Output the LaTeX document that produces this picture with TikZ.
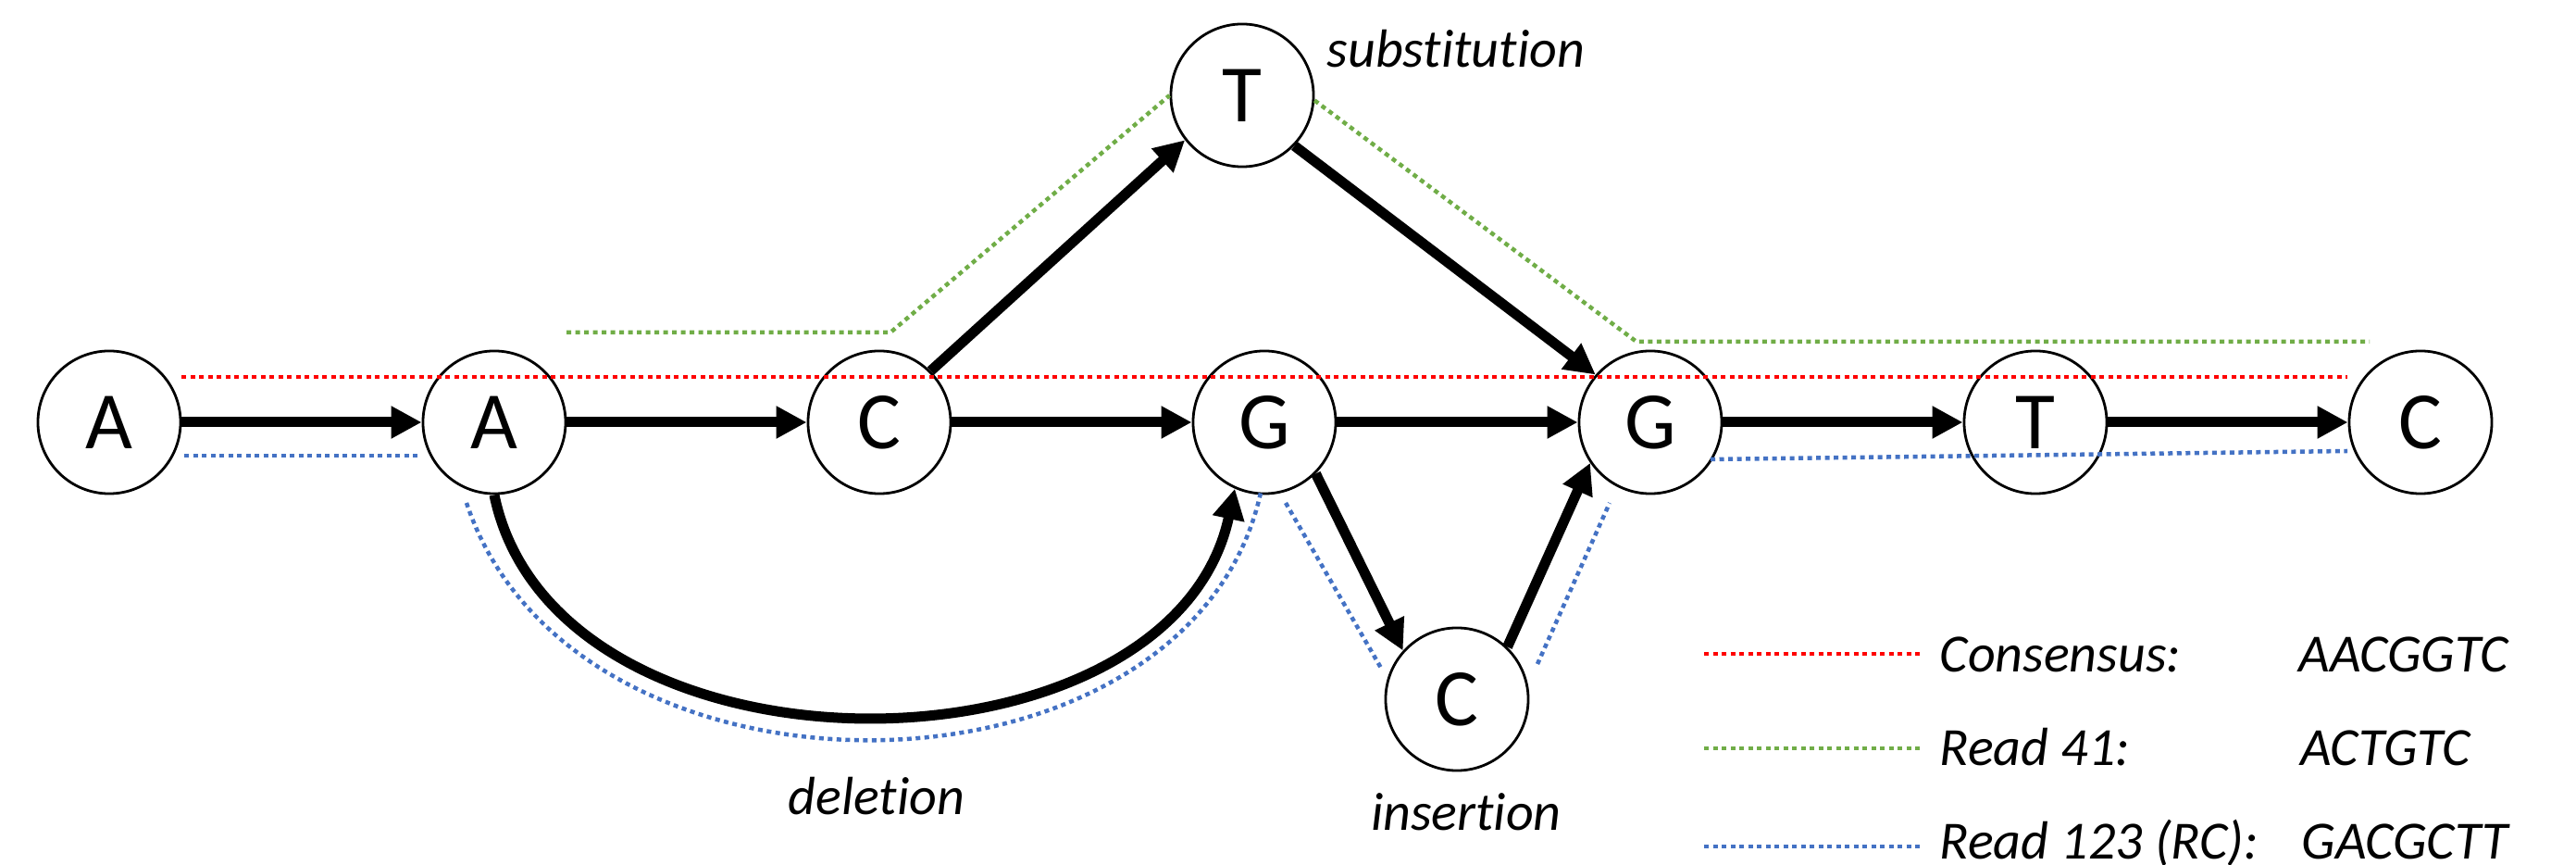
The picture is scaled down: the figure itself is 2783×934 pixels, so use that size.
\documentclass[tikz,border=0pt]{standalone}
\usepackage{fontspec}
\setmainfont{Carlito}[Ligatures=NoCommon]
\usetikzlibrary{arrows.meta}
\definecolor{consred}{RGB}{255,0,0}
\definecolor{readgreen}{RGB}{112,173,71}
\definecolor{readblue}{RGB}{68,114,196}
\begin{document}
\begin{tikzpicture}[x=0.01cm, y=-0.01cm,
  base/.style={circle, draw, line width=0.8pt, minimum size=1.54cm, inner sep=0pt,
    font=\fontsize{25}{25}\selectfont},
  link/.style={line width=0.11cm, -{Triangle[length=0.33cm,width=0.33cm]}},
  trace/.style={line width=0.045cm, dash pattern=on 0.05cm off 0.045cm},
  tag/.style={inner sep=0pt, font=\fontsize{16.5}{16.5}\selectfont\itshape}]
\useasboundingbox (0,0) rectangle (2783,934);

% graph nodes
\node[base] (A1) at (118,456) {A};
\node[base] (A2) at (534,456) {A};
\node[base] (C1) at (950,456) {C};
\node[base] (G1) at (1366,456) {G};
\node[base] (G2) at (1783,456) {G};
\node[base] (T2) at (2199,456) {T};
\node[base] (C2) at (2615,456) {C};
\node[base] (Ts) at (1342,103) {T};
\node[base] (Cb) at (1574,755) {C};

% edges
\draw[link] (A1) -- (A2);
\draw[link] (A2) -- (C1);
\draw[link] (C1) -- (G1);
\draw[link] (G1) -- (G2);
\draw[link] (G2) -- (T2);
\draw[link] (T2) -- (C2);
\draw[link] (C1.45) -- (Ts.218);
\draw[link] (Ts.-44) -- (G2.139);
\draw[link] (G1.-45) -- (Cb.138);
\draw[link] (Cb.46) -- (G2.214);
\draw[link] (A2.south) .. controls (600,855) and (1265,850) .. (G1.-114);

% consensus path
\draw[trace, consred] (196,407) -- (2536,407);

% read 41 path
\draw[trace, readgreen] (612,359) -- (962,359) -- (Ts.west);
\draw[trace, readgreen] (Ts.-4) -- (1768,369) -- (2560,369);

% read 123 path
\draw[trace, readblue] (199,492) -- (453,492);
\draw[trace, readblue] (504,543) .. controls (620,892) and (1285,881) .. (1362,532);
\draw[trace, readblue] (1389,543) -- (1493,723);
\draw[trace, readblue] (1661,717) -- (1739,543);
\draw[trace, readblue] (1848,496) -- (2536,487);

% event labels
\node[tag, anchor=base west] (lsub) at (1433,73) {substitution};
\node[tag, anchor=base] (ldel) at (947,880) {deletion};
\node[tag, anchor=base] (lins) at (1584,897) {insertion};

% legend
\draw[trace, consred] (1841,706) -- (2076,706);
\draw[trace, readgreen] (1841,808) -- (2076,808);
\draw[trace, readblue] (1841,914) -- (2076,914);
\node[tag, anchor=base west] (k1) at (2095,726) {Consensus:};
\node[tag, anchor=base west] (s1) at (2483,726) {AACGGTC};
\node[tag, anchor=base west] (k2) at (2095,827) {Read 41:};
\node[tag, anchor=base west] (s2) at (2485,827) {ACTGTC};
\node[tag, anchor=base west] (k3) at (2095,928) {Read 123 (RC):};
\node[tag, anchor=base west] (s3) at (2486,928) {GACGCTT};
\end{tikzpicture}
\end{document}
